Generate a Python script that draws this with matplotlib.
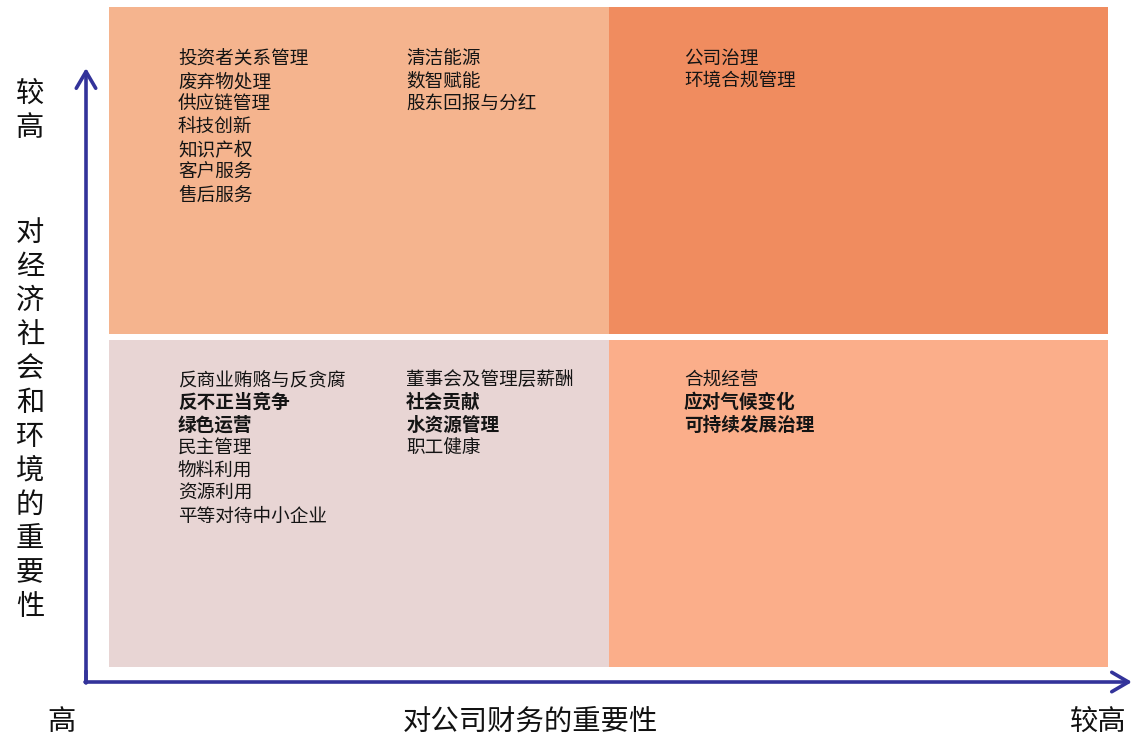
import matplotlib.pyplot as plt
from matplotlib.patches import Rectangle

plt.rcParams['font.family'] = ['Noto Sans CJK SC', 'DejaVu Sans']

# quadrant grid: (col, row) -> colour, row 1 = top
quad_cells = [(0, 1), (1, 1), (0, 0), (1, 0)]
quad_colors = ['#F5B48E', '#F08C5F', '#E8D5D4', '#FBAE8A']

# topics per quadrant, split into columns; True = bold
top_left_a = ['投资者关系管理', '废弃物处理', '供应链管理', '科技创新', '知识产权', '客户服务', '售后服务']
top_left_b = ['清洁能源', '数智赋能', '股东回报与分红']
top_right = ['公司治理', '环境合规管理']
bottom_left_a = ['反商业贿赂与反贪腐', '反不正当竞争', '绿色运营', '民主管理', '物料利用', '资源利用', '平等对待中小企业']
bottom_left_a_bold = [False, True, True, False, False, False, False]
bottom_left_b = ['董事会及管理层薪酬', '社会贡献', '水资源管理', '职工健康']
bottom_left_b_bold = [False, True, True, False]
bottom_right = ['合规经营', '应对气候变化', '可持续发展治理']
bottom_right_bold = [False, True, True]

x_label = '对公司财务的重要性'
y_label = '对经济社会和环境的重要性'
low_label = '高'
high_label = '较高'

fig = plt.figure(figsize=(11.34, 7.39), dpi=100)

# quadrant panel
ax = fig.add_axes([109 / 1134, 1 - 667 / 739, 999 / 1134, 660 / 739])
ax.set_xlim(0, 2)
ax.set_ylim(0, 2)
ax.axis('off')
gap = 0.009
for (c, r), col in zip(quad_cells, quad_colors):
    y0 = 1 + gap if r == 1 else 0
    ax.add_patch(Rectangle((c, y0), 1, 1 - gap, facecolor=col, edgecolor='none'))

step = 0.069
def put_list(items, x, y_top, bold=None):
    for i, t in enumerate(items):
        w = 'bold' if (bold and bold[i]) else 500
        ax.text(x, y_top - i * step, t, fontsize=13.4, color='#141414',
                ha='left', va='center', fontweight=w)

put_list(top_left_a, 0.138, 1.842)
put_list(top_left_b, 0.595, 1.842)
put_list(top_right, 1.151, 1.842)
put_list(bottom_left_a, 0.138, 0.870, bottom_left_a_bold)
put_list(bottom_left_b, 0.595, 0.870, bottom_left_b_bold)
put_list(bottom_right, 1.151, 0.870, bottom_right_bold)

# overlay in pixel units for axes arrows and labels
ov = fig.add_axes([0, 0, 1, 1])
ov.set_xlim(0, 1134)
ov.set_ylim(739, 0)
ov.axis('off')
ov.patch.set_alpha(0)

axis_color = '#33339A'
arrow = dict(arrowstyle='->, head_length=0.6, head_width=0.35', lw=2.6,
             color=axis_color, mutation_scale=20, shrinkA=0, shrinkB=0)
ov.plot([86, 86], [682, 672], color=axis_color, lw=2.6, solid_capstyle='projecting')
ov.annotate('', xy=(86, 68), xytext=(86, 683), arrowprops=arrow)
ov.annotate('', xy=(1132, 682), xytext=(85, 682), arrowprops=arrow)

for i, ch in enumerate(high_label):
    ov.text(30, 94 + i * 34, ch, fontsize=20.4, ha='center', va='center', color='#111111')
for i, ch in enumerate(y_label):
    ov.text(30, 233 + i * 34, ch, fontsize=20.4, ha='center', va='center', color='#111111')

ov.text(62, 722, low_label, fontsize=20.4, ha='center', va='center', color='#111111')
ov.text(530, 722, x_label, fontsize=20.4, ha='center', va='center', color='#111111')
ov.text(1098, 722, high_label, fontsize=20.4, ha='center', va='center', color='#111111')

fig.savefig('out.png', dpi=100)
